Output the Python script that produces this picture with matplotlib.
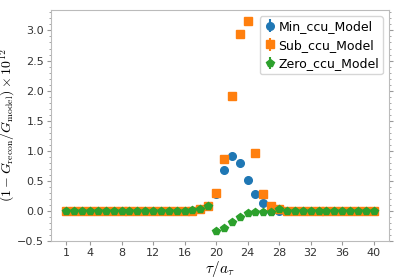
import numpy as np
import matplotlib.pyplot as plt
from matplotlib.ticker import AutoMinorLocator

plt.rcParams['mathtext.fontset'] = 'cm'

tau = list(range(1, 41))

# 读数据 (从图上估计)
min_ccu = [0.0]*17 + [0.028, 0.088, 0.29, 0.674, 0.917, 0.79, 0.508, 0.28, 0.138,
                      0.0, 0.0] + [0.0]*12
sub_ccu = [0.0]*17 + [0.028, 0.088, 0.293, 0.856, 1.91, 2.94, 3.16, 0.956, 0.28,
                      0.083, 0.028] + [0.0]*12
zero_ccu = [0.0]*16 + [0.01, 0.028, 0.088, -0.337, -0.287, -0.188, -0.10, -0.033,
                       -0.017, -0.017, -0.017, 0.028] + [0.0]*6 + [-0.005, 0.005] + [0.0]*4
err_min = [0.004]*40
err_sub = [0.004]*40
err_zero = [0.004]*40

xticks = [1, 4, 8, 12, 16, 20, 24, 28, 32, 36, 40]

fig = plt.figure(figsize=(3.99, 2.79), dpi=100)
ax = fig.add_axes([0.128, 0.136, 0.847, 0.828])

ax.errorbar(tau, min_ccu, yerr=err_min, fmt='o', ms=5.5, color='#1f77b4', label='Min_ccu_Model')
ax.errorbar(tau, sub_ccu, yerr=err_sub, fmt='s', ms=5.5, color='#ff7f0e', label='Sub_ccu_Model')
ax.errorbar(tau, zero_ccu, yerr=err_zero, fmt='p', ms=5.5, color='#2ca02c', label='Zero_ccu_Model')

ax.set_xticks(xticks)
ax.set_ylim(bottom=-0.5)
ax.yaxis.set_minor_locator(AutoMinorLocator(5))
ax.tick_params(axis='both', which='both', labelsize=8, colors='#333333', pad=2, length=3)
ax.tick_params(axis='y', which='both', right=True, color='#999999')
ax.tick_params(axis='x', color='#999999')
ax.tick_params(axis='y', which='minor', length=1.5)
for s in ax.spines.values():
    s.set_color('#bbbbbb')

ax.set_xlabel(r'$\tau/a_\tau$', fontsize=11, labelpad=1)
ax.set_ylabel(r'$(1-G_{\rm recon}/G_{\rm model})\times 10^{12}$', fontsize=10, labelpad=0)
ax.legend(loc='upper right', fontsize=9, handletextpad=0.2, borderpad=0.3,
          labelspacing=0.45, handlelength=1.0)

fig.savefig('out.png', dpi=100)
